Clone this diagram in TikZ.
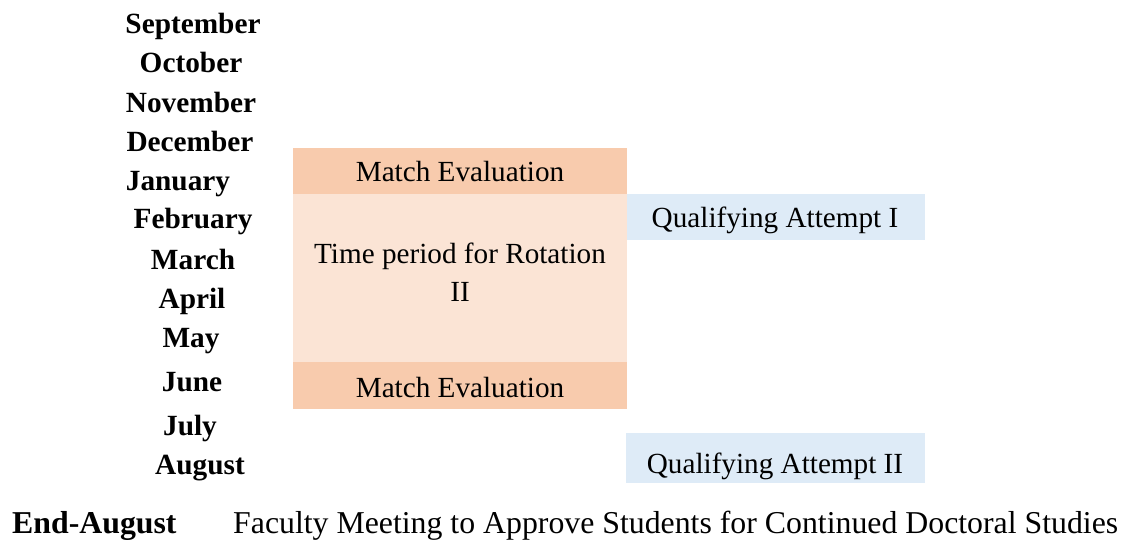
\documentclass[tikz,border=0pt]{standalone}
\usepackage{fontspec}
\setmainfont{Liberation Serif}
\definecolor{matchc}{HTML}{F8CBAD}
\definecolor{rotc}{HTML}{FBE4D5}
\definecolor{qualc}{HTML}{DEEBF7}
\begin{document}
\begin{tikzpicture}[x=1pt,y=-1pt,
  month/.style={font=\fontsize{29.3}{34}\selectfont\bfseries, inner sep=0pt, anchor=base},
  boxtext/.style={font=\fontsize{29.2}{38}\selectfont, inner sep=0pt},
  plain/.style={font=\fontsize{31.8}{34}\selectfont, inner sep=0pt},
  endlabel/.style={font=\fontsize{31.8}{34}\selectfont\bfseries, inner sep=0pt}]
\useasboundingbox (0,0) rectangle (1132,540);
% boxes
\fill[matchc] (293,148) rectangle (627,194);
\fill[rotc] (293,194) rectangle (627,362);
\fill[matchc] (293,362) rectangle (627,409);
\fill[qualc] (627,194) rectangle (925,240);
\fill[qualc] (626,433) rectangle (925,483);
\node[boxtext, anchor=base] (me1) at (460,182) {Match Evaluation};
\node[boxtext, align=center, anchor=north] (rot) at (460,243) {Time period for Rotation\\II};
\node[boxtext, anchor=base] (me2) at (460,397) {Match Evaluation};
\node[boxtext, anchor=base] (q1) at (775,228) {Qualifying Attempt I};
\node[boxtext, anchor=base] (q2) at (775,473) {Qualifying Attempt II};
% months
\node[month] (sep) at (193,34) {September};
\node[month] (oct) at (191,73) {October};
\node[month] (nov) at (191,113) {November};
\node[month] (dec) at (190,152) {December};
\node[month] (jan) at (178,191) {January};
\node[month] (feb) at (193,229) {February};
\node[month] (mar) at (193,269) {March};
\node[month] (apr) at (192,308) {April};
\node[month] (may) at (191,347) {May};
\node[month] (jun) at (192,391) {June};
\node[month] (jul) at (190,435) {July};
\node[month] (aug) at (200,474) {August};
\node[endlabel, anchor=base west] (end) at (12,533) {End-August};
\node[plain, anchor=base west] (fac) at (233,533) {Faculty Meeting to Approve Students for Continued Doctoral Studies};
\end{tikzpicture}
\end{document}
